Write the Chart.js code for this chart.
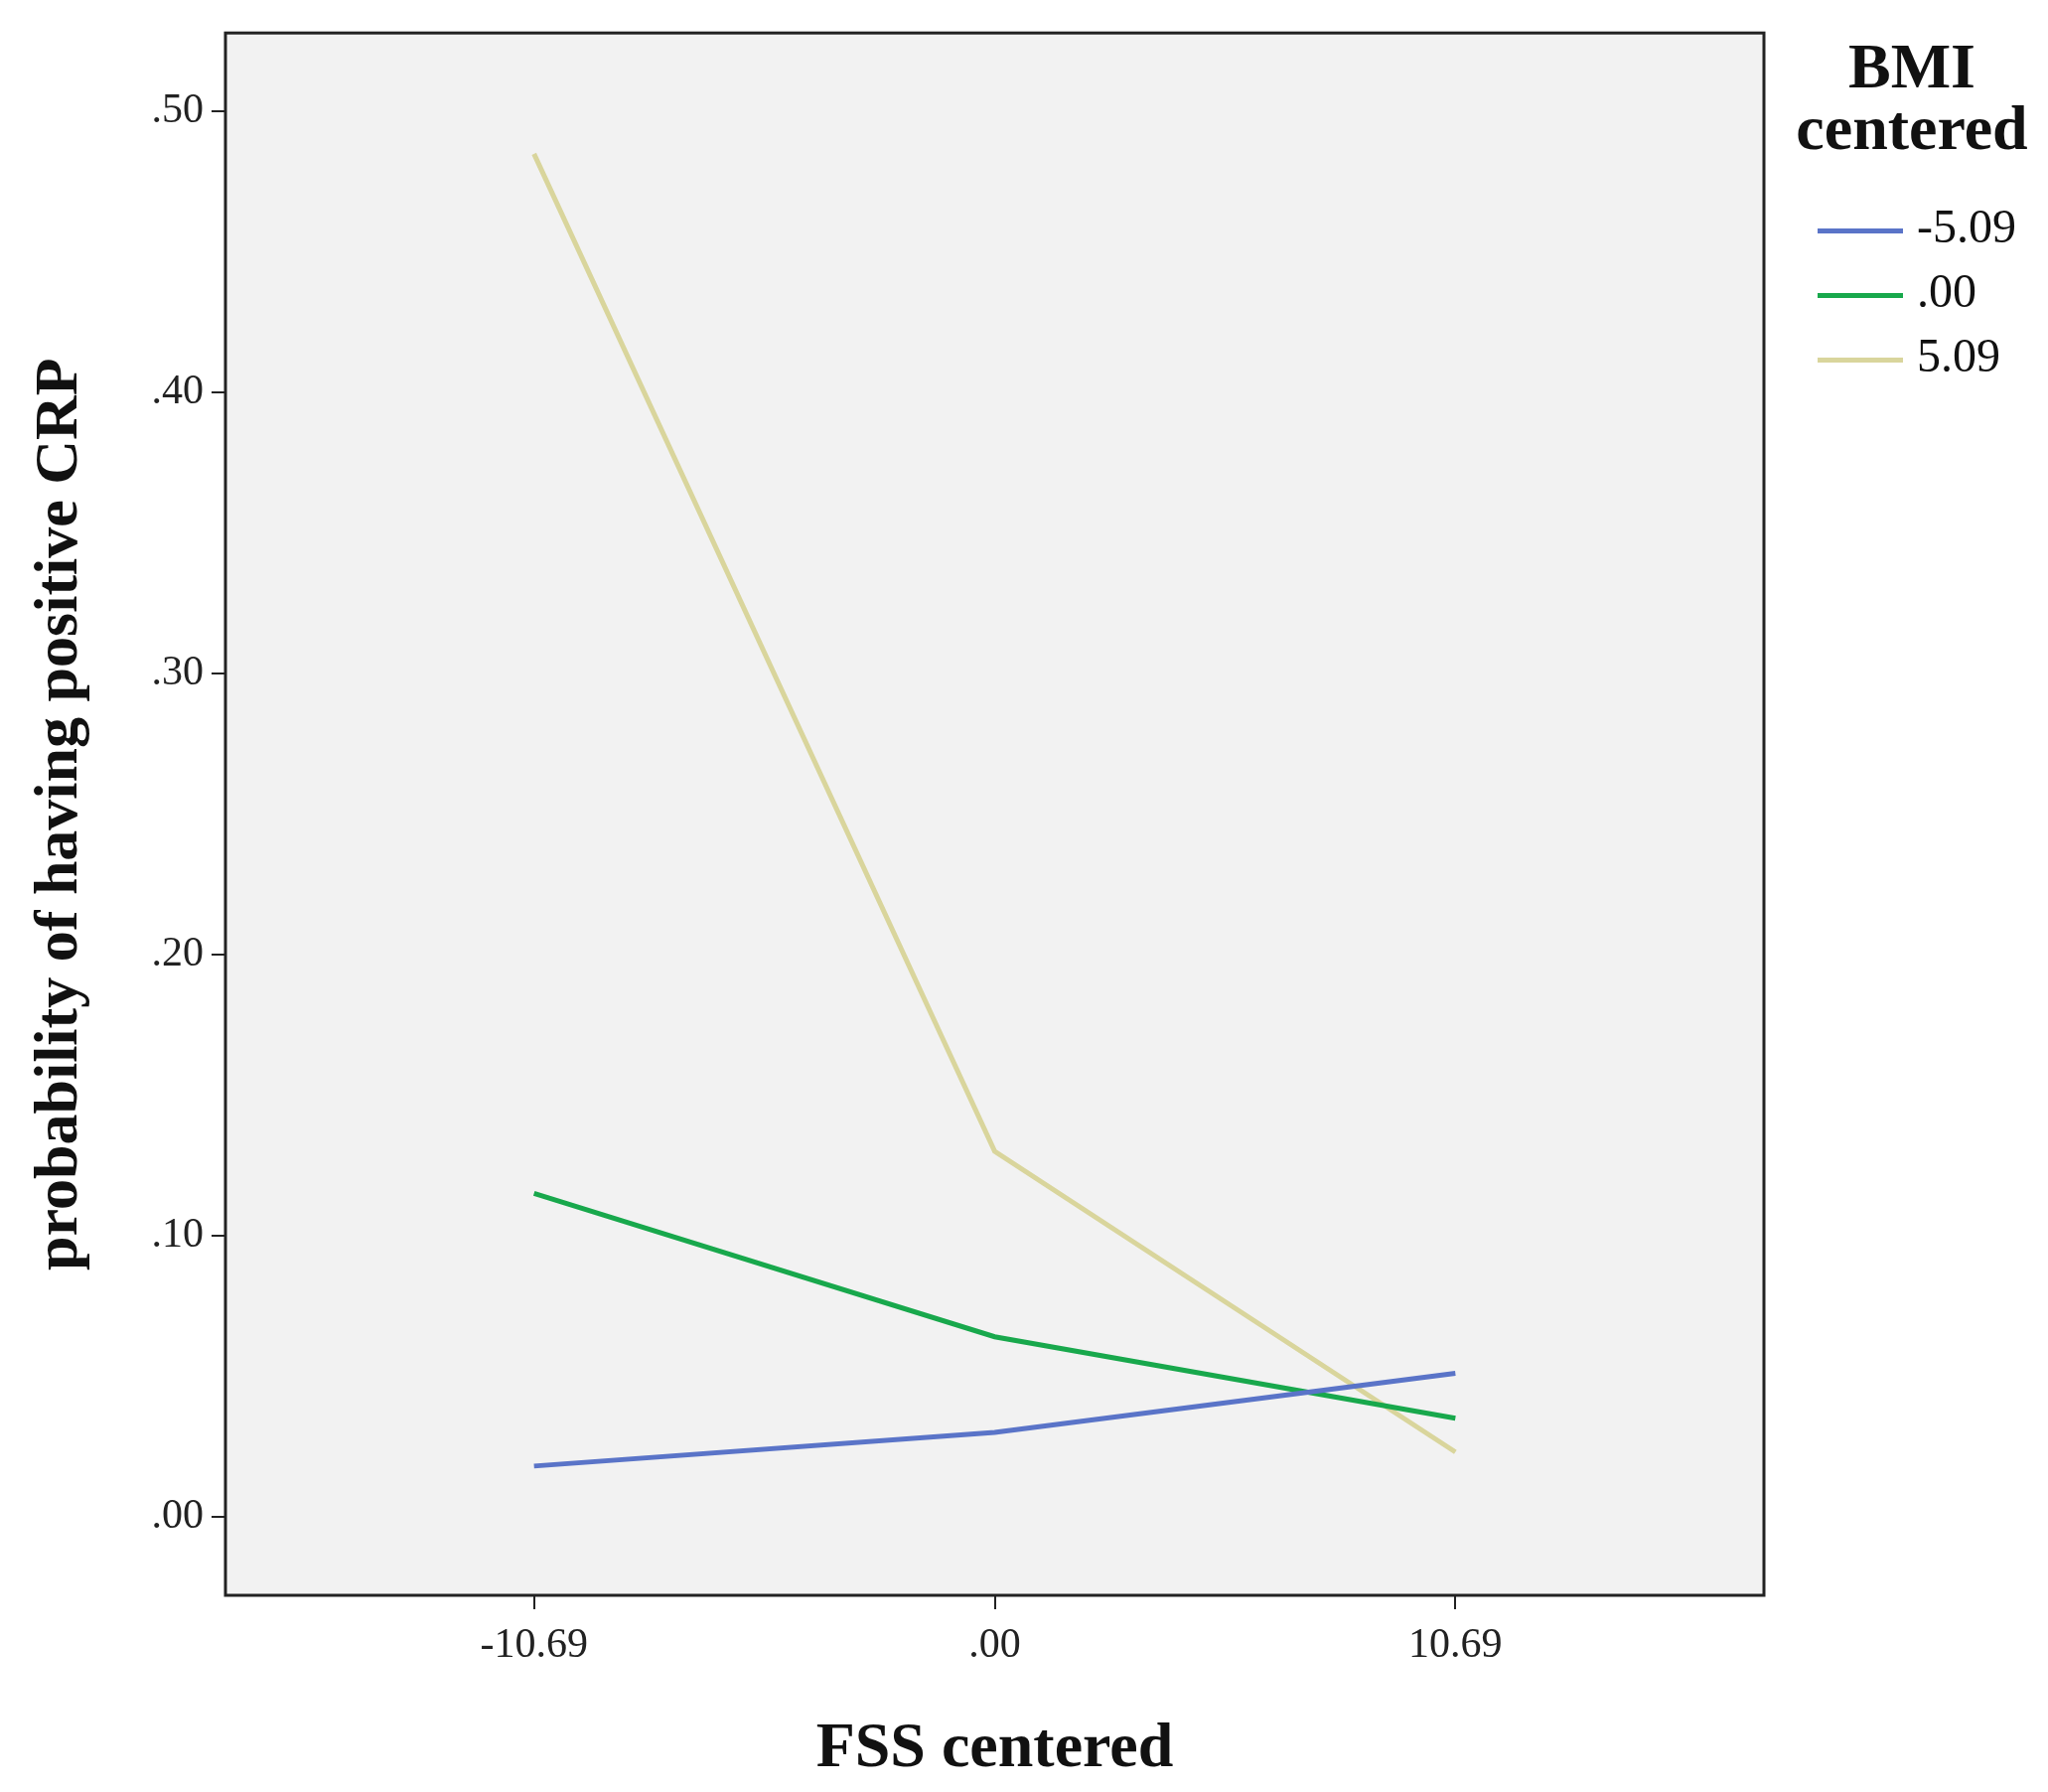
<!DOCTYPE html>
<html><head><meta charset="utf-8">
<script src="https://cdn.jsdelivr.net/npm/chart.js@4"></script>
<style>
html,body{margin:0;padding:0;background:#fff;}
#wrap{position:relative;width:2062px;height:1804px;}
#legend{position:absolute;left:1790px;top:36px;font-family:"Liberation Serif",serif;color:#111;}
.lt{font-weight:bold;font-size:64px;text-align:center;width:270px;line-height:62px;}
.row{position:absolute;left:40px;font-size:48px;line-height:48px;height:48px;white-space:nowrap;}
.row span{display:inline-block;width:86px;height:5px;vertical-align:middle;margin-right:14px;}
</style></head><body>
<div id="wrap"><canvas id="c" width="2062" height="1804"></canvas>
<div id="legend"></div></div>
<script>
const xValues = [-10.69, 0, 10.69];
const xTickLabels = ['-10.69', '.00', '10.69'];
const seriesNames = ['-5.09', '.00', '5.09'];
const bmiLow = [0.018, 0.030, 0.051];
const bmiMid = [0.115, 0.064, 0.035];
const bmiHigh = [0.485, 0.130, 0.023];
const colors = ['#5a74c8', '#18a84c', '#d9d59c'];
const yTicks = [0, 0.1, 0.2, 0.3, 0.4, 0.5];

const series = [bmiLow, bmiMid, bmiHigh];
const FONT = '"Liberation Serif", serif';

const leg = document.getElementById('legend');
leg.innerHTML = '<div class="lt">BMI<br>centered</div>';
seriesNames.forEach((n,i)=>{
  const d=document.createElement('div');d.className='row';
  d.style.top=(168+i*65)+'px';
  d.innerHTML='<span style="background:'+colors[i]+'"></span>'+n;
  leg.appendChild(d);
});

const frame = {id:'frame',
  beforeDraw(ch){const a=ch.chartArea,c=ch.ctx;c.save();c.fillStyle='#f2f2f2';c.fillRect(a.left,a.top,a.right-a.left,a.bottom-a.top);c.restore();},
  afterDraw(ch){const a=ch.chartArea,c=ch.ctx;c.save();c.strokeStyle='#222';c.lineWidth=3;c.strokeRect(a.left,a.top,a.right-a.left,a.bottom-a.top);c.restore();}
};

new Chart(document.getElementById('c'), {
  type:'line',
  data:{datasets: series.map((s,i)=>({label:seriesNames[i], data:s.map((v,j)=>({x:xValues[j],y:v})),
    borderColor:colors[i], borderWidth:5, pointRadius:0, fill:false, tension:0}))},
  options:{
    responsive:false, animation:false, devicePixelRatio:1,
    layout:{padding:{top:22,right:286,left:20,bottom:0}},
    plugins:{legend:{display:false},tooltip:{enabled:false}},
    scales:{
      x:{type:'linear', min:-17.85, max:17.85,
        afterBuildTicks(s){s.ticks=xValues.map(v=>({value:v}));},
        afterFit(s){s.height=198;},
        ticks:{callback:(v,i)=>xTickLabels[i], font:{family:FONT,size:42}, color:'#222', padding:12, maxRotation:0},
        grid:{drawOnChartArea:false, tickLength:14, color:'#222', lineWidth:2},
        border:{display:false},
        title:{display:true,text:'FSS centered',font:{family:FONT,size:64,weight:'bold'},color:'#111',padding:{top:34}}
      },
      y:{min:-0.028, max:0.528,
        afterBuildTicks(s){s.ticks=yTicks.map(v=>({value:v}));},
        afterFit(s){s.width=207;},
        ticks:{callback:v=>v.toFixed(2).replace(/^0\./,'.'), font:{family:FONT,size:42}, color:'#222', padding:8},
        grid:{drawOnChartArea:false, tickLength:14, color:'#222', lineWidth:2},
        border:{display:false},
        title:{display:true,text:'probability of having positive CRP',font:{family:FONT,size:62,weight:'bold'},color:'#111',padding:{bottom:0}}
      }
    }
  },
  plugins:[frame]
});
</script></body></html>
